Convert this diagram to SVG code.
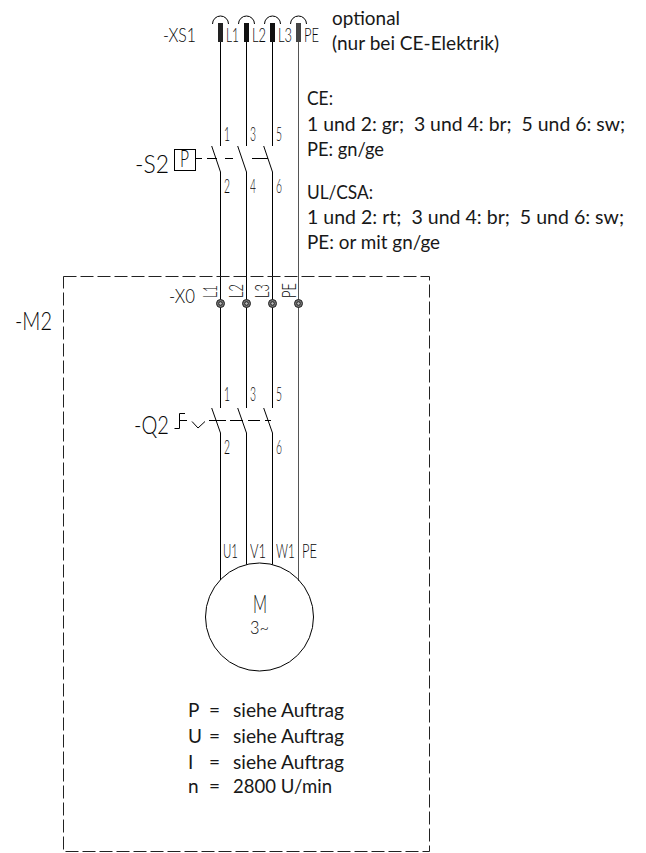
<svg xmlns="http://www.w3.org/2000/svg" width="646" height="853" viewBox="0 0 646 853">
<style>
.w{stroke:#000;stroke-width:1;fill:none}
.g{stroke:#555;stroke-width:1;fill:none}
.t{font-family:"Lato","Noto Sans",sans-serif;font-size:19px;fill:#111;white-space:pre;opacity:.97}
.n{font-family:"Lato","Liberation Sans",sans-serif;font-weight:300;fill:#000;font-size:19px;opacity:.97}
.b{font-family:"Lato","Liberation Sans",sans-serif;font-weight:300;fill:#000;font-size:26px;opacity:.97}
</style>
<rect width="646" height="853" fill="#fff"/>
<g id="connectors">
<path class="w" d="M220.500 42V146M246.500 42V146M272.500 42V146M220.500 172V408M246.500 172V408M272.500 172V408M220.500 433V580M246.500 433V564.600M272.500 433V564.600"/>
<path class="g" d="M298.500 42V581"/>
<path class="w" d="M211.700 146L220.500 172M237.700 146L246.500 172M263.700 146L272.500 172M211.700 408L220.500 433M237.700 408L246.500 433M263.700 408L272.500 433"/>
<path class="w" d="M196 158.500H202M207 158.500H217M225 158.500H233M252 158.500H268"/>
<path class="w" d="M180 420.500H187M209 420.500H226M230 420.500H243M248 420.500H260M265 420.500H271"/>
</g>
<g id="XS1">
<text class="n" x="163" y="42" textLength="33" lengthAdjust="spacingAndGlyphs">-XS1</text>
<path class="w" d="M212.500 24A8 8 0 0 1 228.500 24M238.500 24A8 8 0 0 1 254.500 24M264.500 24A8 8 0 0 1 280.500 24M290.500 24A8 8 0 0 1 306.500 24"/>
<rect x="218" y="23" width="5" height="19" fill="#222"/>
<rect x="244" y="23" width="5" height="19" fill="#111"/>
<rect x="270" y="23" width="5" height="19" fill="#111"/>
<rect x="296" y="23" width="5" height="19" fill="#444"/>
<text class="n" x="226" y="42" textLength="13" lengthAdjust="spacingAndGlyphs">L1</text>
<text class="n" x="252" y="42" textLength="14" lengthAdjust="spacingAndGlyphs">L2</text>
<text class="n" x="278" y="42" textLength="14" lengthAdjust="spacingAndGlyphs">L3</text>
<text class="n" x="304" y="42" textLength="15" lengthAdjust="spacingAndGlyphs">PE</text>
</g>
<g id="S2">
<text class="b" x="135" y="173" textLength="34" lengthAdjust="spacingAndGlyphs">-S2</text>
<rect class="w" x="174.500" y="149.500" width="21" height="21"/>
<text class="n" x="180" y="167" style="font-size:23px" textLength="9" lengthAdjust="spacingAndGlyphs">P</text>
<text class="n" x="224" y="141" textLength="6" lengthAdjust="spacingAndGlyphs">1</text><text class="n" x="250" y="141" textLength="6" lengthAdjust="spacingAndGlyphs">3</text><text class="n" x="276" y="141" textLength="6" lengthAdjust="spacingAndGlyphs">5</text>
<text class="n" x="224" y="193" textLength="6" lengthAdjust="spacingAndGlyphs">2</text><text class="n" x="250" y="193" textLength="6" lengthAdjust="spacingAndGlyphs">4</text><text class="n" x="276" y="193" textLength="6" lengthAdjust="spacingAndGlyphs">6</text>
</g>
<g id="X0">
<text class="n" x="169" y="303" textLength="26" lengthAdjust="spacingAndGlyphs">-X0</text>
<text class="n" transform="translate(217,298) rotate(-90)" textLength="13" lengthAdjust="spacingAndGlyphs">L1</text>
<text class="n" transform="translate(243,298) rotate(-90)" textLength="14" lengthAdjust="spacingAndGlyphs">L2</text>
<text class="n" transform="translate(269,298) rotate(-90)" textLength="14" lengthAdjust="spacingAndGlyphs">L3</text>
<text class="n" transform="translate(296,298) rotate(-90)" textLength="15" lengthAdjust="spacingAndGlyphs">PE</text>
<g fill="#777" stroke="#222"><circle cx="220.500" cy="303.500" r="4"/><circle cx="246.500" cy="303.500" r="4"/><circle cx="272.500" cy="303.500" r="4"/><circle cx="298.500" cy="303.500" r="4"/></g>
<g fill="#bbb" stroke="#222"><circle cx="220.500" cy="303.500" r="1.800"/><circle cx="246.500" cy="303.500" r="1.800"/><circle cx="272.500" cy="303.500" r="1.800"/><circle cx="298.500" cy="303.500" r="1.800"/></g>
</g>
<g id="Q2">
<text class="b" x="134" y="434" textLength="35" lengthAdjust="spacingAndGlyphs">-Q2</text>
<path class="w" d="M174.500 428.500H179.500V413.500H185M192 421.500L198 428L205 421.500"/>
<text class="n" x="224" y="401" textLength="6" lengthAdjust="spacingAndGlyphs">1</text><text class="n" x="250" y="401" textLength="6" lengthAdjust="spacingAndGlyphs">3</text><text class="n" x="276" y="401" textLength="6" lengthAdjust="spacingAndGlyphs">5</text>
<text class="n" x="224" y="454" textLength="6" lengthAdjust="spacingAndGlyphs">2</text><text class="n" x="276" y="454" textLength="6" lengthAdjust="spacingAndGlyphs">6</text>
</g>
<g id="M1">
<circle class="w" cx="259.500" cy="617" r="54"/>
<text class="n" x="223" y="558" textLength="15" lengthAdjust="spacingAndGlyphs">U1</text>
<text class="n" x="250" y="558" textLength="16" lengthAdjust="spacingAndGlyphs">V1</text>
<text class="n" transform="translate(276,558) scale(.62,1)">W1</text>
<text class="n" x="302" y="558" textLength="15" lengthAdjust="spacingAndGlyphs">PE</text>
<text class="b" x="253" y="613" textLength="14" lengthAdjust="spacingAndGlyphs">M</text>
<text class="n" x="250" y="634" style="font-size:17px" textLength="19" lengthAdjust="spacingAndGlyphs">3~</text>
</g>
<g id="M2">
<rect x="63.500" y="276.500" width="366" height="575" fill="none" stroke="#222" stroke-dasharray="13 4"/>
<text class="b" x="15" y="330" textLength="37" lengthAdjust="spacingAndGlyphs">-M2</text>
</g>
<g id="notes">
<text class="t" x="332" y="25" textLength="68" lengthAdjust="spacingAndGlyphs">optional</text>
<text class="t" x="332" y="50" textLength="167" lengthAdjust="spacingAndGlyphs">(nur bei CE-Elektrik)</text>
<text class="t" x="307" y="105" textLength="26" lengthAdjust="spacingAndGlyphs">CE:</text>
<text class="t" x="307" y="130.500" textLength="318" lengthAdjust="spacingAndGlyphs">1 und 2: gr;  3 und 4: br;  5 und 6: sw;</text>
<text class="t" x="307" y="156" textLength="77" lengthAdjust="spacingAndGlyphs">PE: gn/ge</text>
<text class="t" x="307" y="199" textLength="66" lengthAdjust="spacingAndGlyphs">UL/CSA:</text>
<text class="t" x="307" y="224" textLength="317" lengthAdjust="spacingAndGlyphs">1 und 2: rt;  3 und 4: br;  5 und 6: sw;</text>
<text class="t" x="307" y="249" textLength="133" lengthAdjust="spacingAndGlyphs">PE: or mit gn/ge</text>
<text class="t" x="188" y="717">P</text><text class="t" x="209" y="717">=</text><text class="t" x="233" y="717" textLength="111" lengthAdjust="spacingAndGlyphs">siehe Auftrag</text>
<text class="t" x="188" y="743">U</text><text class="t" x="209" y="743">=</text><text class="t" x="233" y="743" textLength="111" lengthAdjust="spacingAndGlyphs">siehe Auftrag</text>
<text class="t" x="188" y="769">I</text><text class="t" x="209" y="769">=</text><text class="t" x="233" y="769" textLength="111" lengthAdjust="spacingAndGlyphs">siehe Auftrag</text>
<text class="t" x="188" y="793">n</text><text class="t" x="209" y="793">=</text><text class="t" x="233" y="793" textLength="99" lengthAdjust="spacingAndGlyphs">2800 U/min</text>
</g>
</svg>
